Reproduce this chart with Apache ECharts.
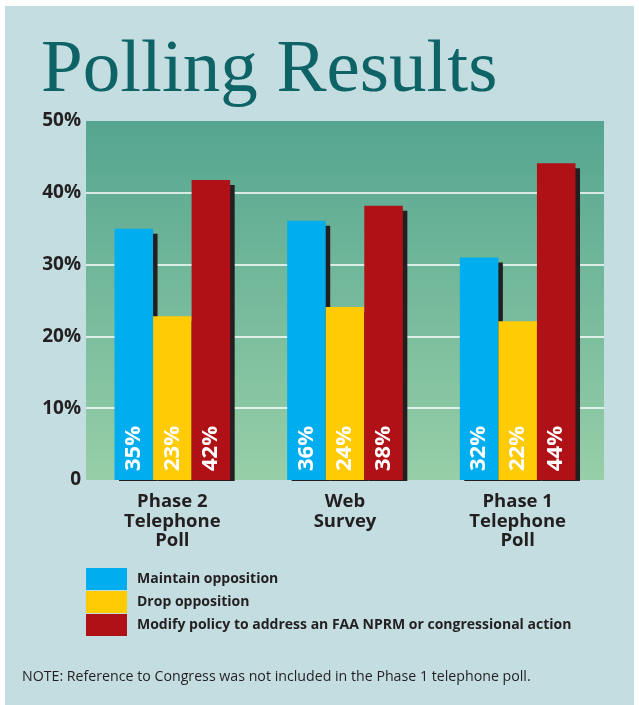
<!DOCTYPE html>
<html>
<head>
<meta charset="utf-8">
<script src="https://cdn.jsdelivr.net/npm/echarts@6/dist/echarts.min.js"></script>
<style>
html,body{margin:0;padding:0;background:#ffffff;}
#chart{width:639px;height:705px;}
</style>
</head>
<body>
<div id="chart"></div>
<script>
// ---- data ----
var categories = ['Phase 2\nTelephone\nPoll', 'Web\nSurvey', 'Phase 1\nTelephone\nPoll'];
var seriesNames = ['Maintain opposition', 'Drop opposition', 'Modify policy to address an FAA NPRM or congressional action'];
var maintainValues = [35, 36.1, 31];
var dropValues = [22.8, 24.1, 22.1];
var modifyValues = [41.8, 38.2, 44.1];
var maintainLabels = ['35%', '36%', '32%'];
var dropLabels = ['23%', '24%', '22%'];
var modifyLabels = ['42%', '38%', '44%'];
var yTicks = [0, 10, 20, 30, 40, 50];
var titleText = 'Polling Results';
var noteText = 'NOTE: Reference to Congress was not included in the Phase 1 telephone poll.';

var colors = ['#00aeef', '#ffcb05', '#b01117'];
var sansFont = 'Open Sans';
var textDark = '#231f20';

var chart = echarts.init(document.getElementById('chart'), null, {renderer: 'canvas'});

function makeSeries(name, values, labels, color) {
  return {
    name: name,
    type: 'bar',
    data: values,
    barGap: '0%',
    barCategoryGap: '33%',
    itemStyle: {
      color: color,
      shadowColor: '#231f20',
      shadowBlur: 0,
      shadowOffsetX: 4.5,
      shadowOffsetY: 5
    },
    label: {
      show: true,
      position: 'insideBottom',
      rotate: 90,
      align: 'left',
      verticalAlign: 'middle',
      distance: 9,
      color: '#ffffff',
      fontFamily: sansFont,
      fontWeight: 'bold',
      fontSize: 22,
      formatter: function (p) { return labels[p.dataIndex]; }
    },
    emphasis: {disabled: true},
    animation: false
  };
}

var option = {
  backgroundColor: '#ffffff',
  animation: false,
  title: {
    text: titleText,
    left: 36,
    top: 29,
    textStyle: {
      fontFamily: 'Liberation Serif',
      fontWeight: 'normal',
      fontSize: 75,
      color: '#0e6366'
    }
  },
  graphic: [
    {
      type: 'rect', z: -10, silent: true,
      shape: {x: 5, y: 6, width: 629, height: 699},
      style: {fill: '#c3dde0'}
    },
    {
      type: 'rect', z: 100, silent: true,
      shape: {x: 80, y: 481, width: 540, height: 6},
      style: {fill: '#c3dde0'}
    },
    {
      type: 'text', z: 100, silent: true,
      left: 22, top: 670,
      style: {
        text: noteText,
        fontFamily: sansFont,
        fontSize: 14.2,
        fill: textDark
      }
    }
  ],
  grid: {
    left: 86, right: 35, top: 121, bottom: 225,
    show: true,
    borderWidth: 0,
    backgroundColor: new echarts.graphic.LinearGradient(0, 0, 0, 1, [
      {offset: 0, color: '#55a590'},
      {offset: 1, color: '#97cfa8'}
    ])
  },
  legend: {
    orient: 'vertical',
    left: 86,
    top: 568,
    padding: 0,
    itemWidth: 41,
    itemHeight: 22,
    itemGap: 1,
    icon: 'rect',
    data: seriesNames,
    selectedMode: false,
    itemStyle: {shadowBlur: 0, shadowOffsetX: 0, shadowOffsetY: 0, shadowColor: 'transparent'},
    textStyle: {
      fontFamily: sansFont,
      fontWeight: 'bold',
      fontSize: 14,
      color: textDark,
      padding: [0, 0, 0, 5]
    }
  },
  xAxis: {
    type: 'category',
    data: categories,
    axisLine: {show: false},
    axisTick: {show: false},
    axisLabel: {
      margin: 12,
      fontFamily: sansFont,
      fontWeight: 'bold',
      fontSize: 18.5,
      lineHeight: 19.5,
      color: textDark,
      interval: 0
    }
  },
  yAxis: {
    type: 'value',
    min: yTicks[0],
    max: yTicks[yTicks.length - 1],
    interval: 10,
    axisLine: {show: false},
    axisTick: {show: false},
    axisLabel: {
      margin: 5,
      padding: [7, 0, 0, 0],
      fontFamily: sansFont,
      fontWeight: 'bold',
      fontSize: 19,
      color: textDark,
      formatter: function (v) { return v === 0 ? '0' : v + '%'; }
    },
    splitLine: {
      show: true,
      lineStyle: {
        color: ['transparent', '#ffffff', '#ffffff', '#ffffff', '#ffffff', 'transparent'],
        width: 1.5
      }
    }
  },
  series: [
    makeSeries(seriesNames[0], maintainValues, maintainLabels, colors[0]),
    makeSeries(seriesNames[1], dropValues, dropLabels, colors[1]),
    makeSeries(seriesNames[2], modifyValues, modifyLabels, colors[2])
  ]
};
chart.setOption(option);
</script>
</body>
</html>
